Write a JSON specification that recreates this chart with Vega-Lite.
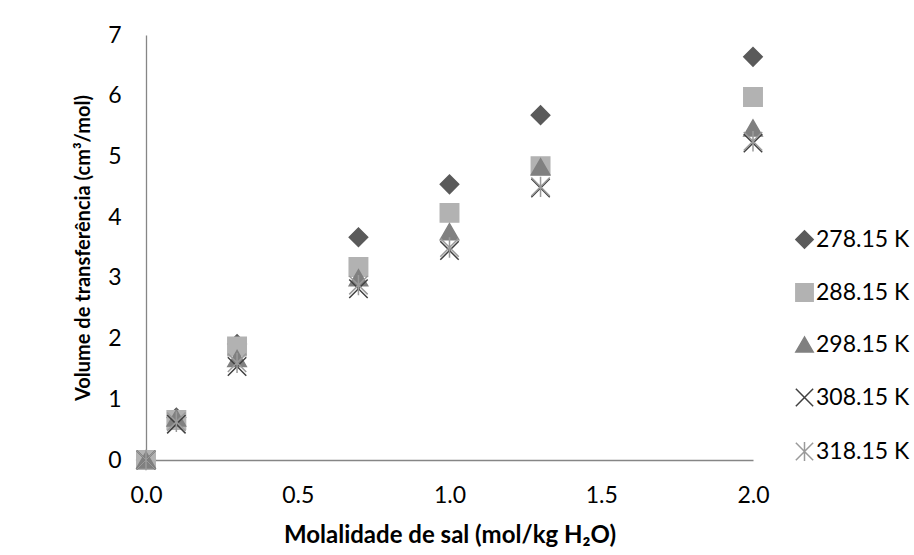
{
  "$schema": "https://vega.github.io/schema/vega-lite/v6.json",
  "width": 607,
  "height": 425,
  "autosize": "none",
  "padding": {"left": 146, "top": 35, "right": 161, "bottom": 95},
  "background": "white",
  "config": {
    "view": {"stroke": null},
    "font": "Lato",
    "axis": {"labelFont": "Lato", "titleFont": "Lato", "labelColor": "#000000", "titleColor": "#000000", "grid": false, "ticks": false, "tickSize": 0, "domainColor": "#868686", "domainWidth": 1.3}
  },
  "data": {
    "values": [
      {"m": 0.0, "v": 0.0, "T": "278.15 K"},
      {"m": 0.1, "v": 0.70, "T": "278.15 K"},
      {"m": 0.3, "v": 1.91, "T": "278.15 K"},
      {"m": 0.7, "v": 3.67, "T": "278.15 K"},
      {"m": 1.0, "v": 4.54, "T": "278.15 K"},
      {"m": 1.3, "v": 5.68, "T": "278.15 K"},
      {"m": 2.0, "v": 6.64, "T": "278.15 K"},
      {"m": 0.0, "v": 0.0, "T": "288.15 K"},
      {"m": 0.1, "v": 0.66, "T": "288.15 K"},
      {"m": 0.3, "v": 1.87, "T": "288.15 K"},
      {"m": 0.7, "v": 3.18, "T": "288.15 K"},
      {"m": 1.0, "v": 4.07, "T": "288.15 K"},
      {"m": 1.3, "v": 4.84, "T": "288.15 K"},
      {"m": 2.0, "v": 5.98, "T": "288.15 K"},
      {"m": 0.0, "v": 0.0, "T": "298.15 K"},
      {"m": 0.1, "v": 0.69, "T": "298.15 K"},
      {"m": 0.3, "v": 1.67, "T": "298.15 K"},
      {"m": 0.7, "v": 3.0, "T": "298.15 K"},
      {"m": 1.0, "v": 3.76, "T": "298.15 K"},
      {"m": 1.3, "v": 4.83, "T": "298.15 K"},
      {"m": 2.0, "v": 5.47, "T": "298.15 K"},
      {"m": 0.0, "v": 0.0, "T": "308.15 K"},
      {"m": 0.1, "v": 0.59, "T": "308.15 K"},
      {"m": 0.3, "v": 1.54, "T": "308.15 K"},
      {"m": 0.7, "v": 2.82, "T": "308.15 K"},
      {"m": 1.0, "v": 3.45, "T": "308.15 K"},
      {"m": 1.3, "v": 4.48, "T": "308.15 K"},
      {"m": 2.0, "v": 5.22, "T": "308.15 K"},
      {"m": 0.0, "v": 0.0, "T": "318.15 K"},
      {"m": 0.1, "v": 0.63, "T": "318.15 K"},
      {"m": 0.3, "v": 1.6, "T": "318.15 K"},
      {"m": 0.7, "v": 2.88, "T": "318.15 K"},
      {"m": 1.0, "v": 3.5, "T": "318.15 K"},
      {"m": 1.3, "v": 4.5, "T": "318.15 K"},
      {"m": 2.0, "v": 5.25, "T": "318.15 K"}
    ]
  },
  "mark": {"type": "point", "filled": true, "size": 340, "strokeWidth": 1.5, "opacity": 1},
  "encoding": {
    "x": {
      "field": "m", "type": "quantitative",
      "scale": {"domain": [0, 2], "nice": false, "zero": false},
      "axis": {"title": "Molalidade de sal (mol/kg H₂O)", "values": [0, 0.5, 1, 1.5, 2], "format": ".1f", "labelFontSize": 23, "labelPadding": 24, "titleFontSize": 24, "titleFontWeight": "bold", "titlePadding": 16, "labelFlush": false}
    },
    "y": {
      "field": "v", "type": "quantitative",
      "scale": {"domain": [0, 7], "nice": false},
      "axis": {"title": "Volume de transferência (cm³/mol)", "values": [0, 1, 2, 3, 4, 5, 6, 7], "format": "d", "labelFontSize": 23, "labelPadding": 25, "titleFontSize": 20, "titleFontWeight": "bold", "titlePadding": 14}
    },
    "shape": {
      "field": "T", "type": "nominal",
      "scale": {"domain": ["278.15 K", "288.15 K", "298.15 K", "308.15 K", "318.15 K"],
                "range": ["diamond", "square", "triangle-up", "M-1,-1L1,1M1,-1L-1,1", "M-1,-1L1,1M1,-1L-1,1M0,-1.1L0,1.1"]},
      "legend": {"title": null, "orient": "none", "legendX": 647, "legendY": 193, "labelFont": "Lato", "labelFontSize": 23, "labelColor": "#000000", "symbolSize": 300, "symbolStrokeWidth": 1.5, "rowPadding": 28, "labelOffset": 0, "padding": 0}
    },
    "fill": {
      "field": "T", "type": "nominal",
      "scale": {"domain": ["278.15 K", "288.15 K", "298.15 K", "308.15 K", "318.15 K"],
                "range": ["#5a5a5a", "#b2b2b2", "#808080", "transparent", "transparent"]},
      "legend": {"title": null, "orient": "none", "legendX": 647, "legendY": 193, "labelFont": "Lato", "labelFontSize": 23, "labelColor": "#000000", "symbolSize": 300, "symbolStrokeWidth": 1.5, "rowPadding": 28, "labelOffset": 0, "padding": 0}
    },
    "stroke": {
      "field": "T", "type": "nominal",
      "scale": {"domain": ["278.15 K", "288.15 K", "298.15 K", "308.15 K", "318.15 K"],
                "range": ["#5a5a5a", "#b2b2b2", "#808080", "#404040", "#9a9a9a"]},
      "legend": {"title": null, "orient": "none", "legendX": 647, "legendY": 193, "labelFont": "Lato", "labelFontSize": 23, "labelColor": "#000000", "symbolSize": 300, "symbolStrokeWidth": 1.5, "rowPadding": 28, "labelOffset": 0, "padding": 0}
    }
  }
}
